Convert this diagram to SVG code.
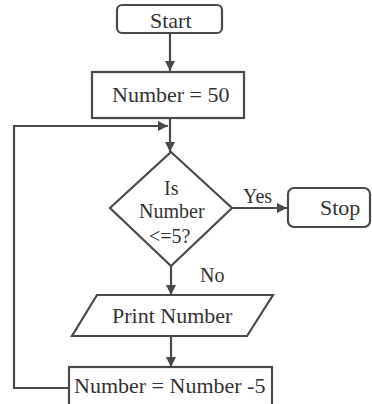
<svg xmlns="http://www.w3.org/2000/svg" width="372" height="404" viewBox="0 0 372 404" font-family="'Liberation Serif', 'Times New Roman', serif">
<defs>
<marker id="arr" viewBox="0 0 10 10" refX="10" refY="5" markerWidth="11" markerHeight="10" markerUnits="userSpaceOnUse" orient="auto">
<path d="M0,0 L10,5 L0,10 Z" fill="#4a4a4a"/>
</marker>
</defs>
<style>
.s{fill:none;stroke:#4a4a4a;stroke-width:2.2}
.n{fill:#fff;stroke:#4a4a4a;stroke-width:2.2}
text{fill:#333;font-family:'Liberation Serif','Times New Roman',serif}
</style>
<rect width="372" height="404" fill="#fff"/>
<g id="connectors">
<line class="s" x1="170" y1="33" x2="170" y2="71" marker-end="url(#arr)"/>
<line class="s" x1="170" y1="118" x2="170" y2="152" marker-end="url(#arr)"/>
<polyline class="s" points="69,388 14,388 14,126 168,126" marker-end="url(#arr)"/>
<line class="s" x1="232" y1="208" x2="287" y2="208" marker-end="url(#arr)"/>
<text x="243" y="203" font-size="20">Yes</text>
<line class="s" x1="171" y1="266" x2="171" y2="295" marker-end="url(#arr)"/>
<text x="200" y="282" font-size="20">No</text>
<line class="s" x1="171" y1="336" x2="171" y2="367" marker-end="url(#arr)"/>
</g>
<g id="start">
<rect class="n" x="117" y="5" width="105" height="28" rx="5"/>
<text x="150" y="28" font-size="22">Start</text>
</g>
<g id="init">
<rect class="n" x="92" y="72" width="152" height="46"/>
<text x="112" y="102" font-size="22">Number = 50</text>
</g>
<g id="decision">
<polygon class="n" points="171,152 232,208 171,266 110,208"/>
<text x="164" y="195" font-size="20">Is</text>
<text x="139" y="218" font-size="20">Number</text>
<text x="149" y="243" font-size="20">&lt;=5?</text>
</g>
<g id="stop">
<rect class="n" x="288" y="188" width="82" height="39" rx="6"/>
<text x="320" y="215" font-size="22">Stop</text>
</g>
<g id="print">
<polygon class="n" points="97,295 273,295 247,336 72,336"/>
<text x="112" y="323" font-size="22">Print Number</text>
</g>
<g id="decrement">
<rect class="n" x="69" y="367" width="203" height="40"/>
<text x="74" y="393" font-size="22">Number = Number -5</text>
</g>
</svg>
